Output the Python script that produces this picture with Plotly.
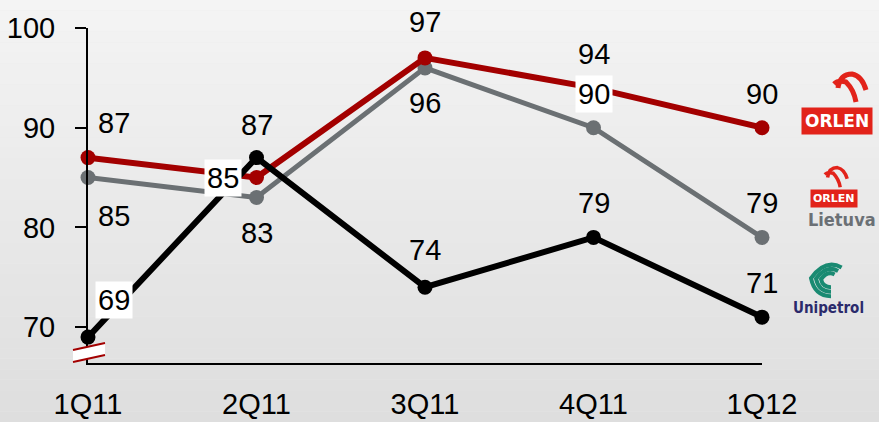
import plotly.graph_objects as go

# ---------------- data ----------------
quarters = ["1Q11", "2Q11", "3Q11", "4Q11", "1Q12"]
orlen = [87, 85, 97, 94, 90]
lietuva = [85, 83, 96, 90, 79]
unipetrol = [69, 87, 74, 79, 71]
y_ticks = [70, 80, 90, 100]

# label placement (pixel offsets from the point, white box flag)
orlen_lbl = [(26, 35, False), (-34, 0, True), (0, 36, False), (0, 34, False), (0, 34, False)]
lietuva_lbl = [(26, -38, False), (0, -36, False), (0, -35, False), (0, 34, True), (0, 34, False)]
unipetrol_lbl = [(26, 37, True), (0, 33, False), (0, 37, False), (0, 34, False), (0, 34, False)]

RED = "#a30000"
GRAY = "#6b7073"
BLACK = "#000000"
FONT = "Liberation Sans Narrow, Arial Narrow, Liberation Sans, Arial"

W, H = 879, 422
L, R, T, B = 88, 117, 28, 59
PW, PH = W - L - R, H - T - B

def px(x):
    return (x - L) / PW

def py(y):
    return (H - B - y) / PH

xs = list(range(len(quarters)))

fig = go.Figure()

# background gradient
n = 40
shapes = []
for i in range(n):
    t0 = i / n
    t1 = (i + 1) / n
    c = int(round(244 - (244 - 222) * (t0 + 0.5 / n)))
    shapes.append(dict(type="rect", xref="paper", yref="paper",
                       x0=px(0), x1=px(W), y0=py(t0 * H), y1=py(t1 * H) - 0.0001,
                       fillcolor=f"rgb({c},{c},{c})", line=dict(width=0), layer="below"))

for vals, color, width in [(lietuva, GRAY, 5), (orlen, RED, 6), (unipetrol, BLACK, 6)]:
    fig.add_trace(go.Scatter(x=xs, y=vals, mode="lines+markers",
                             line=dict(color=color, width=width),
                             marker=dict(color=color, size=15),
                             cliponaxis=False, showlegend=False, hoverinfo="skip"))

annotations = []
for vals, lbls in [(orlen, orlen_lbl), (lietuva, lietuva_lbl), (unipetrol, unipetrol_lbl)]:
    for i, v in enumerate(vals):
        dx, dy, box = lbls[i]
        annotations.append(dict(x=xs[i], y=v, xref="x", yref="y", text=str(v),
                                showarrow=False, xshift=dx, yshift=dy,
                                xanchor="center", yanchor="middle",
                                font=dict(family=FONT, size=29, color="black"),
                                bgcolor="white" if box else "rgba(0,0,0,0)",
                                borderpad=2))

# axis break symbol
shapes.append(dict(type="path", xref="paper", yref="paper",
                   path=f"M {px(73)} {py(350)} L {px(105)} {py(343)} L {px(105)} {py(355)} L {px(73)} {py(362)} Z",
                   fillcolor="white", line=dict(width=0), layer="above"))
shapes.append(dict(type="line", xref="paper", yref="paper", x0=px(73), y0=py(350), x1=px(105), y1=py(343),
                   line=dict(color=RED, width=2), layer="above"))
shapes.append(dict(type="line", xref="paper", yref="paper", x0=px(73), y0=py(362), x1=px(105), y1=py(355),
                   line=dict(color=RED, width=2), layer="above"))

# ----- logos -----
def eagle(cx, cy, s, color):
    p1 = (f"M {px(cx-12*s)} {py(cy+2*s)} Q {px(cx-10*s)} {py(cy-12*s)} {px(cx+2*s)} {py(cy-12*s)} "
          f"Q {px(cx+12*s)} {py(cy-10*s)} {px(cx+16*s)} {py(cy+4*s)}")
    p2 = (f"M {px(cx-16*s)} {py(cy-2*s)} Q {px(cx-12*s)} {py(cy-6*s)} {px(cx-4*s)} {py(cy-4*s)} "
          f"Q {px(cx+4*s)} {py(cy+4*s)} {px(cx+6*s)} {py(cy+16*s)}")
    return [dict(type="path", xref="paper", yref="paper", path=p1, line=dict(color=color, width=5 * s)),
            dict(type="path", xref="paper", yref="paper", path=p2, line=dict(color=color, width=5 * s))]

shapes += eagle(850, 86, 1.0, "#e2231a")
shapes += eagle(836, 176, 0.7, "#e2231a")

def logo_text(x, y, text, size, color, family="DejaVu Sans", bg=None, pad=2):
    d = dict(xref="paper", yref="paper", x=px(x), y=py(y), text=text, showarrow=False,
             xanchor="center", yanchor="middle",
             font=dict(family=family, size=size, color=color), borderpad=pad)
    if bg:
        d["bgcolor"] = bg
    return d

annotations.append(logo_text(837, 121, "<b>ORLEN</b>", 17, "white", bg="#e2231a", pad=3))
annotations.append(logo_text(834, 198, "<b>ORLEN</b>", 11, "white", bg="#e2231a", pad=2))
annotations.append(logo_text(842, 220, "<b>Lietuva</b>", 18, "#6b7075",
                             family="DejaVu Sans Condensed, DejaVu Sans"))
annotations.append(logo_text(828, 308, "<b>Unipetrol</b>", 15, "#2b2a6b", family="DejaVu Sans Condensed, DejaVu Sans"))
for k, r in enumerate([18, 13, 8]):
    cx, cy = 829, 280
    shapes.append(dict(type="path", xref="paper", yref="paper",
                       path=(f"M {px(cx + r*0.7)} {py(cy - r*0.7)} Q {px(cx - r*0.2)} {py(cy - r*1.2)} "
                             f"{px(cx - r)} {py(cy - r*0.1)} Q {px(cx - r*0.8)} {py(cy + r*0.9)} {px(cx + 2)} {py(cy + r*0.9)}"),
                       line=dict(color="#1a8a72", width=4)))

fig.update_layout(
    width=W, height=H,
    margin=dict(l=L, r=R, t=T, b=B, autoexpand=False),
    paper_bgcolor="#e9e9e9",
    plot_bgcolor="rgba(0,0,0,0)",
    shapes=shapes,
    annotations=annotations,
    xaxis=dict(range=[0, len(quarters) - 1], tickmode="array", tickvals=xs, ticktext=quarters,
               automargin=False,
               showgrid=False, zeroline=False, showline=True, linecolor="black", linewidth=2,
               ticks="outside", ticklen=14, tickcolor="rgba(0,0,0,0)",
               tickfont=dict(family=FONT, size=29, color="black")),
    yaxis=dict(range=[66.4, 100], tickmode="array", tickvals=y_ticks,
               automargin=False,
               showgrid=False, zeroline=False, showline=True, linecolor="black", linewidth=2,
               ticks="outside", ticklen=11, tickwidth=2, tickcolor="black",
               ticklabelstandoff=14,
               tickfont=dict(family=FONT, size=29, color="black")),
)

fig.write_html("out.html", config={"responsive": False, "displayModeBar": False},
               post_script="document.body.style.margin='0px';document.body.style.overflow='hidden';")
